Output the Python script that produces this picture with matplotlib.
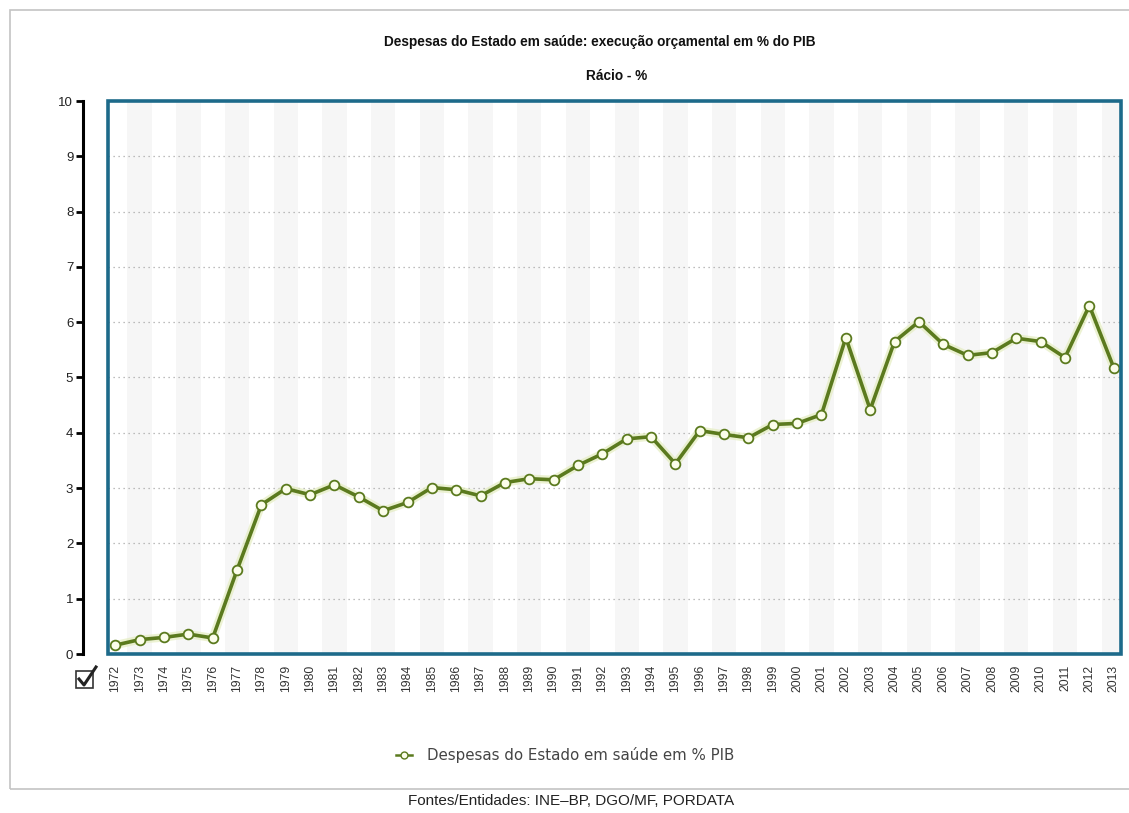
import matplotlib.pyplot as plt
from matplotlib.patches import Rectangle
from matplotlib.lines import Line2D

# Despesas do Estado em saúde, % do PIB
anos = list(range(1972, 2014))
valores = [0.16, 0.26, 0.30, 0.36, 0.29, 1.52, 2.70, 2.99, 2.88, 3.06,
           2.84, 2.59, 2.74, 3.01, 2.97, 2.86, 3.10, 3.17, 3.15, 3.41,
           3.62, 3.89, 3.93, 3.44, 4.04, 3.97, 3.91, 4.15, 4.17, 4.33,
           5.72, 4.42, 5.65, 6.01, 5.60, 5.40, 5.45, 5.71, 5.65, 5.36,
           6.30, 5.18]
yticks = list(range(0, 11))

titulo = "Despesas do Estado em saúde: execução orçamental em % do PIB"
subtitulo = "Rácio - %"
legenda = "Despesas do Estado em saúde em % PIB"
fontes = "Fontes/Entidades: INE\u2013BP, DGO/MF, PORDATA"

verde = '#5b7a1e'

W, H = 1129, 813
fig = plt.figure(figsize=(W / 100, H / 100), dpi=100)
plt.rcParams['font.family'] = ['Liberation Sans', 'DejaVu Sans']

# moldura exterior
fig.patches.append(Rectangle((10 / W, 1 - 789 / H), 1.2, (789 - 10) / H,
                             transform=fig.transFigure, fill=False,
                             edgecolor='#c4c4c4', linewidth=1.2))

left, right, top, bottom = 108, 1121, 101, 654
ax = fig.add_axes([left / W, 1 - bottom / H, (right - left) / W, (bottom - top) / H])

ax.set_xlim(anos[0] - 0.3, anos[-1] + 0.3)
ax.set_ylim(0, 10)

# faixas verticais alternadas
for a in anos:
    if a % 2 == 1:
        ax.axvspan(a - 0.5, a + 0.5, color='#f6f6f6', zorder=0, linewidth=0)

for v in yticks[1:-1]:
    ax.axhline(v, color='#a8a8a8', linestyle=(0, (1, 3)), linewidth=0.9, zorder=1)

# linha com brilho
ax.plot(anos, valores, color='#e4edc0', linewidth=6, alpha=0.7, zorder=2,
        solid_capstyle='round', solid_joinstyle='round')
ax.plot(anos, valores, color=verde, linewidth=2.6, zorder=3,
        marker='o', markersize=7, markerfacecolor='#fbfdea',
        markeredgecolor=verde, markeredgewidth=1.3)

for s in ax.spines.values():
    s.set_visible(False)

# caixa azul da área do gráfico
ax.add_patch(Rectangle((0, 0), 1, 1, transform=ax.transAxes, fill=False,
                       edgecolor='#1d6a8a', linewidth=2.6, zorder=5, clip_on=False))

# eixo y preto, deslocado para a esquerda
ax.spines['left'].set_visible(True)
ax.spines['left'].set_position(('outward', 18))
ax.spines['left'].set_color('black')
ax.spines['left'].set_linewidth(2.2)
ax.set_yticks(yticks)
ax.set_yticklabels([str(v) for v in yticks], fontsize=9.5, color='#222222')
ax.tick_params(axis='y', direction='out', length=5, width=2, color='black', pad=2)

ax.set_xticks(anos)
ax.set_xticklabels([str(a) for a in anos], rotation=90, fontsize=8.8, color='#333333')
ax.tick_params(axis='x', length=0, pad=8)

fig.text(600 / W, 1 - 42 / H, titulo, ha='center', va='center',
         fontsize=9.8, fontweight='bold', color='#111111')
fig.text(617 / W, 1 - 76 / H, subtitulo, ha='center', va='center',
         fontsize=9.8, fontweight='bold', color='#111111')

# legenda
fig.lines.append(Line2D([396 / W, 404 / W, 412 / W], [1 - 755 / H] * 3,
                        transform=fig.transFigure, color=verde, linewidth=1.8,
                        marker='o', markevery=[1], markersize=5,
                        markerfacecolor='#fbfdea', markeredgecolor=verde))
fig.text(427 / W, 1 - 755 / H, legenda, ha='left', va='center',
         fontsize=10.8, color='#444444', family='DejaVu Sans')

fig.text(571 / W, 1 - 801 / H, fontes, ha='center', va='center',
         fontsize=11, color='#222222')

# caixa de seleção
fig.patches.append(Rectangle((76 / W, 1 - 688 / H), 17 / W, 17 / H,
                             transform=fig.transFigure, fill=True,
                             facecolor='white', edgecolor='#333333', linewidth=1.2))
fig.lines.append(Line2D([79 / W, 84 / W, 96 / W],
                        [1 - 679 / H, 1 - 685 / H, 1 - 667 / H],
                        transform=fig.transFigure, color='#222222', linewidth=2.2))

fig.savefig('out.png', dpi=100, facecolor='white')
